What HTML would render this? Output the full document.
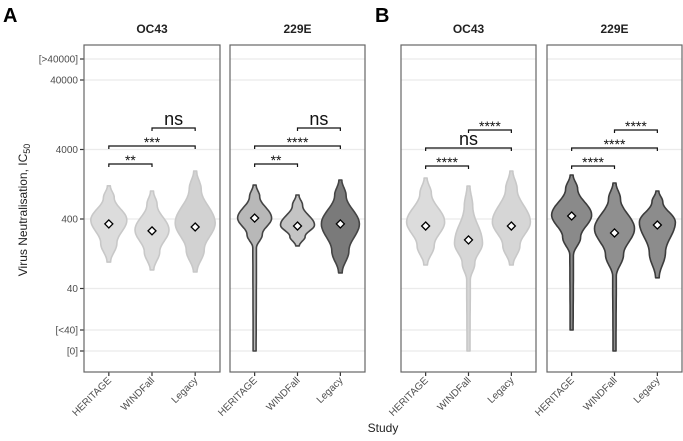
<!DOCTYPE html>
<html><head><meta charset="utf-8"><style>
html,body{margin:0;padding:0;background:#fff;}
svg{display:block;font-family:"Liberation Sans",Arial,sans-serif;}
</style></head><body>
<svg id="chart" width="683" height="441" viewBox="0 0 683 441" xmlns="http://www.w3.org/2000/svg">
<text x="3" y="22" font-size="20" font-weight="bold">A</text>
<text x="375" y="22" font-size="20" font-weight="bold">B</text>
<text transform="translate(27,210) rotate(-90)" text-anchor="middle" font-size="12" fill="#222">Virus Neutralisation, IC<tspan font-size="9" dy="3">50</tspan></text>
<text x="383" y="432" text-anchor="middle" font-size="12" fill="#222">Study</text>
<g id="plot"></g>
</svg>
<script>
// ---- data ----
const categories = ["HERITAGE", "WINDFall", "Legacy"];
const panelTitles = ["OC43", "229E", "OC43", "229E"];
const yTickValues = [">40000", 40000, 4000, 400, 40, "<40", 0];
const yTickLabels = ["[>40000]", "40000", "4000", "400", "40", "[<40]", "[0]"];
// per panel, per category (values in IC50 units)
const vTop   = [[1200, 1010, 1960], [1230, 885, 1455], [1556, 1194, 1960], [1718, 1318, 1010]];
const vMode  = [[387, 278, 350],    [413, 328, 340],   [363, 180, 363],    [457, 290, 360]];
const vLow   = [[96, 74, 69],       [153, 164, 67],    [87, 53, 87],       [120, 60, 57]];
const vTail  = [[96, 74, 69],       [0, 164, 67],      [87, 0, 87],        [20, 0, 57]];
const vMean  = [[340, 270, 307],    [413, 317, 340],   [317, 200, 317],    [442, 252, 328]];
const vWidth = [[0.9, 0.85, 1.0],   [0.85, 0.85, 0.95],[0.95, 0.7, 0.95],  [1.0, 1.0, 0.9]];
const sigLabels = [["**", "***", "ns"], ["**", "****", "ns"], ["****", "ns", "****"], ["****", "****", "****"]];

// ---- layout ----
const panels = [[84, 220], [230, 365], [401, 536], [547, 682]];
const panelTop = 45, panelBottom = 372;
const fills = [["#dcdcdc","#dcdcdc","#d2d2d2"],["#b8b8b8","#c4c4c4","#7a7a7a"],["#dcdcdc","#d6d6d6","#d6d6d6"],["#8a8a8a","#8f8f8f","#8c8c8c"]];
const strokes = [["#c8c8c8","#c8c8c8","#c8c8c8"],["#444","#444","#444"],["#c8c8c8","#c8c8c8","#c8c8c8"],["#3c3c3c","#3c3c3c","#3c3c3c"]];
const NS = "http://www.w3.org/2000/svg";
const plot = document.getElementById("plot");

function yScale(v) {
  if (v === ">40000") return 59;
  if (v === "<40") return 330;
  if (v === 0) return 351;
  if (v < 40) return 330;
  return 219 - (Math.log10(v) - Math.log10(400)) * 69.5;
}
function xScale(p, i) {
  const [l, r] = panels[p];
  const step = (r - l) / 3.15;
  return l + (r - l) / 2 + (i - 1) * step;
}
function mk(tag, attrs, parent) {
  const e = document.createElementNS(NS, tag);
  for (const k in attrs) e.setAttribute(k, attrs[k]);
  (parent || plot).appendChild(e);
  return e;
}

for (let p = 0; p < 4; p++) {
  const [l, r] = panels[p];
  const g = mk("g", {});
  
  
  const t = mk("text", {x: (l + r) / 2, y: 33, "text-anchor": "middle", "font-size": 12, "font-weight": "bold", fill: "#222"}, g);
  t.textContent = panelTitles[p];
  
  
  yTickValues.forEach((v, k) => {
    const gl = mk("line", {x1: l, x2: r, y1: yScale(v), y2: yScale(v), stroke: "#ebebeb", "stroke-width": 1.2}, g);
    
    
    if (p === 0) {
      const tk = mk("line", {x1: l - 4, x2: l, y1: yScale(v), y2: yScale(v), stroke: "#333", "stroke-width": 1.2}, g);
      
      
      const tl = mk("text", {x: l - 6, y: yScale(v) + 3.5, "text-anchor": "end", "font-size": 10, fill: "#4d4d4d"}, g);
      tl.textContent = yTickLabels[k];
      
      
    }
  });
  for (let i = 0; i < 3; i++) {
    const cx = xScale(p, i);
    const yT = yScale(vTop[p][i]), yM = yScale(vMode[p][i]), yL = yScale(vLow[p][i]), yTail = yScale(vTail[p][i]);
    const hw = 20 * vWidth[p][i];
    const ctrl = [[yT, 1.5], [yT + (yM - yT) * 0.35, hw * 0.3], [yM, hw], [yM + (yL - yM) * 0.55, hw * 0.45], [yL, 1.8]];
    if (yTail > yL + 1) ctrl.push([yTail, 1.5]);
    const pts = [];
    for (let s = 0; s < ctrl.length - 1; s++) {
      const [y0, w0] = ctrl[s], [y1, w1] = ctrl[s + 1];
      for (let k = 0; k < 12; k++) {
        const tt = k / 12, e = (1 - Math.cos(Math.PI * tt)) / 2;
        pts.push([y0 + (y1 - y0) * tt, w0 + (w1 - w0) * e]);
      }
    }
    pts.push(ctrl[ctrl.length - 1]);
    let d = "M" + pts.map(q => (cx + q[1]).toFixed(1) + "," + q[0].toFixed(1)).join(" L");
    d += " L" + pts.slice().reverse().map(q => (cx - q[1]).toFixed(1) + "," + q[0].toFixed(1)).join(" L") + "Z";
    const v = mk("path", {d: d, fill: fills[p][i], stroke: strokes[p][i], "stroke-width": 1.6, "stroke-linejoin": "round"}, g);
    
    
    const ym = yScale(vMean[p][i]);
    const dm = mk("path", {d: `M${cx},${ym - 4} L${cx + 4},${ym} L${cx},${ym + 4} L${cx - 4},${ym}Z`, fill: "#fff", stroke: "#000", "stroke-width": 1.3}, g);
    
    
    const xt = mk("line", {x1: cx, x2: cx, y1: panelBottom, y2: panelBottom + 4, stroke: "#333", "stroke-width": 1.2}, g);
    
    
    const xl = mk("text", {transform: `translate(${cx + 3},${panelBottom + 9}) rotate(-45)`, "text-anchor": "end", "font-size": 10, fill: "#4d4d4d"}, g);
    xl.textContent = categories[i];
    
    
  }
  const isA = p < 2;
  const pairs = isA ? [[0, 1, 164], [0, 2, 146], [1, 2, 128]] : [[0, 1, 166], [0, 2, 148], [1, 2, 130]];
  pairs.forEach((pr, k) => {
    const x1 = xScale(p, pr[0]), x2 = xScale(p, pr[1]), y = pr[2];
    const b = mk("path", {d: `M${x1},${y + 3} L${x1},${y} L${x2},${y} L${x2},${y + 3}`, fill: "none", stroke: "#111", "stroke-width": 1.2}, g);
    
    
    const lab = sigLabels[p][k];
    const ns = lab === "ns";
    const tx = mk("text", {x: (x1 + x2) / 2, y: ns ? y - 3 : y + 1, "text-anchor": "middle", "font-size": ns ? 18 : 14, fill: "#111"}, g);
    tx.textContent = lab;
    
    
  });
  const bd = mk("rect", {x: l, y: panelTop, width: r - l, height: panelBottom - panelTop, fill: "none", stroke: "#666", "stroke-width": 1.2}, g);
  
  
}
</script>
</body></html>
